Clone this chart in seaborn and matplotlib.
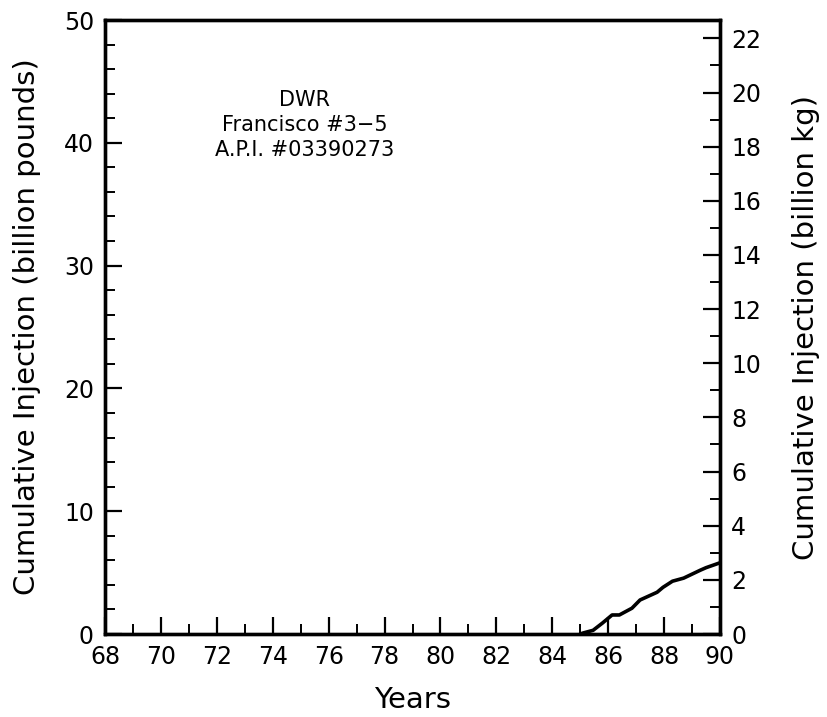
import matplotlib
matplotlib.use("Agg")
import matplotlib.pyplot as plt
from matplotlib.ticker import MultipleLocator
import seaborn as sns
import pandas as pd

years = [85.0, 85.1, 85.46, 85.8, 86.14, 86.4, 86.85, 87.14, 87.75, 87.96, 88.3, 88.7, 88.93, 89.3, 89.5, 90.0]
cum_lbs = [0.0, 0.08, 0.3, 0.9, 1.55, 1.55, 2.1, 2.77, 3.4, 3.8, 4.3, 4.55, 4.8, 5.2, 5.4, 5.8]
annotation = ["DWR", "Francisco #3\u22125", "A.P.I. #03390273"]

sns.set_theme(style="ticks")
plt.rcParams['font.family'] = ['DejaVu Sans']
plt.rcParams['text.color'] = 'black'
plt.rcParams['axes.labelcolor'] = 'black'
plt.rcParams['xtick.color'] = 'black'
plt.rcParams['ytick.color'] = 'black'

fig = plt.figure(figsize=(8.28, 7.17), dpi=100)
ax = fig.add_axes([105/828, 1-634/717, (720-105)/828, (634-20)/717])

df = pd.DataFrame({"year": years, "lbs": cum_lbs})
sns.lineplot(data=df, x="year", y="lbs", ax=ax, color="black", linewidth=2.6)

ax.set_xlim(68, 90)
ax.set_ylim(0, 50)
ax.xaxis.set_major_locator(MultipleLocator(2))
ax.xaxis.set_minor_locator(MultipleLocator(1))
ax.yaxis.set_major_locator(MultipleLocator(10))
ax.yaxis.set_minor_locator(MultipleLocator(2))
ax.tick_params(axis='both', which='major', direction='in', length=12, width=1.6, labelsize=17, pad=8)
ax.tick_params(axis='both', which='minor', direction='in', length=7, width=1.4)
ax.tick_params(axis='y', right=False)
ax.set_xlabel("Years", fontsize=21, labelpad=12)
ax.set_ylabel("Cumulative Injection (billion pounds)", fontsize=21, labelpad=16)
for s in ax.spines.values():
    s.set_linewidth(2.4)
    s.set_color('black')

ax2 = ax.twinx()
ax2.set_ylim(0, 50 * 0.45359)
ax2.yaxis.set_major_locator(MultipleLocator(2))
ax2.yaxis.set_minor_locator(MultipleLocator(1))
ax2.tick_params(axis='y', which='major', direction='in', length=12, width=1.6, labelsize=17, pad=8)
ax2.tick_params(axis='y', which='minor', direction='in', length=7, width=1.4)
ax2.set_ylabel("Cumulative Injection (billion kg)", fontsize=21, labelpad=22)
for s in ax2.spines.values():
    s.set_linewidth(2.4)
    s.set_color('black')

for i, t in enumerate(annotation):
    ax.text(75.15, 43.5 - i * 2.05, t, ha='center', va='center', fontsize=15)

fig.savefig("out.png", dpi=100)
